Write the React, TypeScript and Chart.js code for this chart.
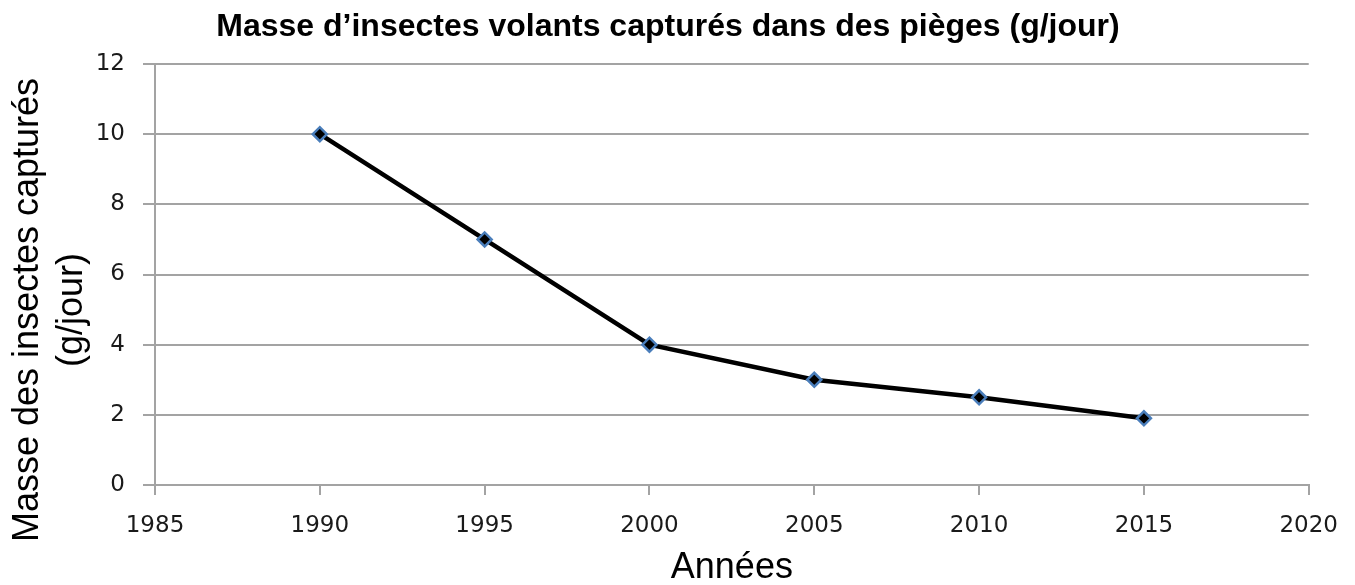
import React, { useEffect, useRef } from "react";
import { Chart, registerables } from "chart.js";

Chart.register(...registerables);

const years = [1990, 1995, 2000, 2005, 2010, 2015];
const masses = [10, 7, 4, 3, 2.5, 1.9];
const chartTitle = "Masse d’insectes volants capturés dans des pièges (g/jour)";
const yTitleLines = ["Masse des insectes capturés", "(g/jour)"];
const xTitle = "Années";

const GRID = "#a3a3a3";
const TICK_COLOR = "#1a1a1a";
const SANS = "'Liberation Sans', Arial, sans-serif";
const TICK_FONT = "'DejaVu Sans', Verdana, sans-serif";

const textPlugin = {
  id: "customTexts",
  afterDraw(chart: any) {
    const ctx = chart.ctx;
    ctx.save();
    ctx.fillStyle = "#000";
    ctx.font = `bold 32px ${SANS}`;
    ctx.textAlign = "center";
    ctx.textBaseline = "alphabetic";
    ctx.fillText(chartTitle, 668, 36);

    ctx.font = `36px ${SANS}`;
    const xs = [38, 82];
    yTitleLines.forEach((line, i) => {
      ctx.save();
      ctx.translate(xs[i], 310);
      ctx.rotate(-Math.PI / 2);
      ctx.textAlign = "center";
      ctx.textBaseline = "alphabetic";
      ctx.fillText(line, 0, 0);
      ctx.restore();
    });
    ctx.restore();
  },
};

export default function App() {
  const ref = useRef<HTMLCanvasElement | null>(null);

  useEffect(() => {
    if (!ref.current) return;
    const chart = new Chart(ref.current, {
      type: "line",
      data: {
        datasets: [
          {
            data: years.map((y, i) => ({ x: y, y: masses[i] })),
            borderColor: "#000000",
            borderWidth: 4.5,
            tension: 0,
            pointStyle: "rectRot",
            pointRadius: 7,
            pointBackgroundColor: "#000000",
            pointBorderColor: "#4a7ebb",
            pointBorderWidth: 2.5,
          },
        ],
      },
      options: {
        responsive: false,
        animation: false,
        layout: { padding: { left: 0, top: 64, right: 45, bottom: 0 } },
        plugins: {
          legend: { display: false },
          title: { display: false },
          tooltip: { enabled: false },
        },
        scales: {
          x: {
            type: "linear",
            min: 1985,
            max: 2020,
            afterFit: (s: any) => {
              s.height = 100;
            },
            ticks: {
              stepSize: 5,
              padding: 17,
              color: TICK_COLOR,
              font: { family: TICK_FONT, size: 23 },
              callback: (v: any) => String(v),
            },
            grid: {
              drawOnChartArea: false,
              drawTicks: true,
              tickLength: 10,
              color: GRID,
              lineWidth: 2,
            },
            border: { color: GRID, width: 2 },
            title: {
              display: true,
              text: xTitle,
              color: "#000",
              font: { family: SANS, size: 36, lineHeight: 0.95 },
              padding: { top: 0, bottom: 0 },
            },
          },
          y: {
            min: 0,
            max: 12,
            afterFit: (s: any) => {
              s.width = 155;
            },
            ticks: {
              stepSize: 2,
              padding: 18,
              color: TICK_COLOR,
              font: { family: TICK_FONT, size: 23 },
            },
            grid: {
              drawTicks: true,
              tickLength: 12,
              color: GRID,
              lineWidth: 2,
            },
            border: { color: GRID, width: 2 },
          },
        },
      },
      plugins: [textPlugin],
    } as any);
    return () => chart.destroy();
  }, []);

  return (
    <div style={{ position: "absolute", left: 0, top: 0, width: 1355, height: 585, background: "#fff" }}>
      <canvas ref={ref} width={1355} height={585} style={{ width: 1355, height: 585, display: "block" }} />
    </div>
  );
}
